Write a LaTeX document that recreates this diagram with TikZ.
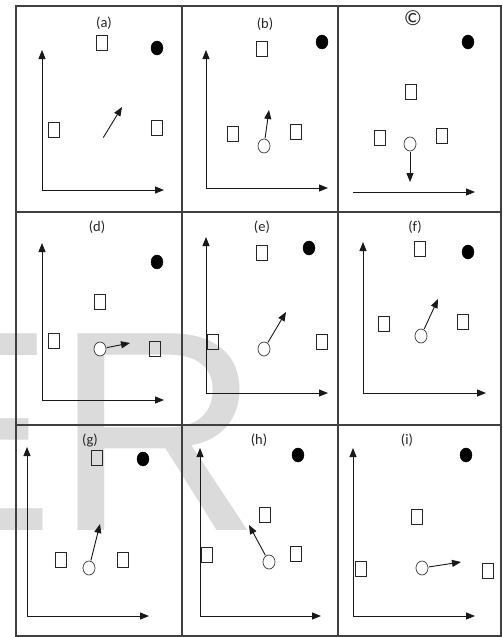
\documentclass[tikz,border=0pt]{standalone}
\usepackage{fontspec}
\setmainfont{Carlito}
\newfontfamily\wmfont{Liberation Sans}
\usetikzlibrary{arrows.meta,shapes.geometric}
\tikzset{
  frame/.style={line width=1.1pt, draw=black!75},
  sq/.style={draw=black!85, line width=0.8pt, rectangle, minimum width=11pt, minimum height=15pt, inner sep=0pt},
  dot/.style={ellipse, fill=black, draw=black, minimum width=12pt, minimum height=14pt, inner sep=0pt},
  circ/.style={ellipse, draw=black!70, line width=0.8pt, fill=white, minimum width=12pt, minimum height=14pt, inner sep=0pt},
  axes/.style={line width=0.9pt, draw=black!90, {Triangle[length=9pt,width=7pt]}-{Triangle[length=9pt,width=7pt]}},
  axis/.style={line width=0.9pt, draw=black!90, -{Triangle[length=9pt,width=7pt]}},
  mv/.style={line width=0.9pt, draw=black!90, -{Triangle[length=9pt,width=7pt]}, shorten <=0.5pt},
  lab/.style={font=\fontsize{14.5}{16}\selectfont, text=black!85, inner sep=0pt}
}
\begin{document}
\begin{tikzpicture}[x=1pt,y=-1pt]
\useasboundingbox (0,0) rectangle (503,637);
\clip (0,0) rectangle (503,637);
\fill[white] (0,0) rectangle (503,637);
% watermark
\node[anchor=base west, inner sep=0pt, text=black!14, font=\wmfont\fontsize{286}{286}\selectfont] (wm) at (-136,530) {ER};
% grid
\draw[frame] (16,6) rectangle (501,636);
\draw[frame] (182,6) -- (182,636);
\draw[frame] (338,6) -- (338,636);
\draw[frame] (16,212) -- (501,212);
\draw[frame] (16,425) -- (501,425);

% ---------- (a)
\node[lab] (la) at (104,23) {(a)};
\node[sq] (a1) at (101.5,42.5) {};
\node[dot] (ad) at (157,48) {};
\node[sq] (a2) at (54,130) {};
\node[sq] (a3) at (157,128) {};
\coordinate (ay) at (42,50); \coordinate (ao) at (42,190); \coordinate (ax) at (164,190);
\draw[axes] (ay) -- (ao) -- (ax);
\coordinate (as) at (103,138); \coordinate (at) at (122,107);
\draw[mv] (as) -- (at);

% ---------- (b)
\node[lab] (lb) at (265,24) {(b)};
\node[sq] (b1) at (262,49) {};
\node[dot] (bd) at (322,42) {};
\node[sq] (b2) at (233,134) {};
\node[sq] (b3) at (296,132) {};
\node[circ] (bc) at (264,146) {};
\coordinate (by) at (206,50); \coordinate (bo) at (206,188); \coordinate (bx) at (328,188);
\draw[axes] (by) -- (bo) -- (bx);
\coordinate (bt) at (269,110);
\draw[mv] (bc) -- (bt);

% ---------- (c)
\node[lab] (lc) at (413,18) {\scalebox{1.5}{©}};
\node[dot] (cd) at (468,42) {};
\node[sq] (c1) at (411,92) {};
\node[sq] (c2) at (380,138) {};
\node[sq] (c3) at (442,136) {};
\node[circ] (cc) at (410,144) {};
\coordinate (cs) at (353,192); \coordinate (cx) at (475,192);
\draw[axis] (cs) -- (cx);
\coordinate (ct) at (410,182);
\draw[mv] (cc) -- (ct);

% ---------- (d)
\node[lab] (ld) at (97,227) {(d)};
\node[dot] (dd) at (157,262) {};
\node[sq] (d1) at (100,302) {};
\node[sq] (d2) at (54,341) {};
\node[sq] (d3) at (155,349) {};
\node[circ] (dc) at (100,349) {};
\coordinate (dy) at (42,243); \coordinate (do) at (42,400); \coordinate (dx) at (164,400);
\draw[axes] (dy) -- (do) -- (dx);
\coordinate (dt) at (130,343);
\draw[mv] (dc) -- (dt);

% ---------- (e)
\node[lab] (le) at (262,227) {(e)};
\node[dot] (ed) at (309,248) {};
\node[sq] (e1) at (262,253) {};
\coordinate (ey) at (206,237); \coordinate (eo) at (206,393); \coordinate (ex) at (328,393);
\draw[axes] (ey) -- (eo) -- (ex);
\node[sq] (e2) at (213,342) {};
\node[sq] (e3) at (322,342) {};
\node[circ] (ec) at (264,349) {};
\coordinate (et) at (286,312);
\draw[mv] (ec) -- (et);

% ---------- (f)
\node[lab] (lf) at (415,227) {(f)};
\node[dot] (fd) at (468,252) {};
\node[sq] (f1) at (420,249) {};
\node[sq] (f2) at (384,324) {};
\node[sq] (f3) at (463,322) {};
\node[circ] (fc) at (421,336) {};
\coordinate (fy) at (363,242); \coordinate (fo) at (363,393); \coordinate (fx) at (486,393);
\draw[axes] (fy) -- (fo) -- (fx);
\coordinate (ft) at (438,299);
\draw[mv] (fc) -- (ft);

% ---------- (g)
\node[lab] (lg) at (90,440) {(g)};
\node[sq] (g1) at (97,458) {};
\node[dot] (gd) at (143,459) {};
\node[sq] (g2) at (61,560) {};
\node[sq] (g3) at (123,560) {};
\node[circ] (gc) at (89,568) {};
\coordinate (gy) at (27,447); \coordinate (go) at (27,616); \coordinate (gx) at (149,616);
\draw[axes] (gy) -- (go) -- (gx);
\coordinate (gt) at (100,524);
\draw[mv] (gc) -- (gt);

% ---------- (h)
\node[lab] (lh) at (259,440) {(h)};
\node[dot] (hd) at (298,455) {};
\node[sq] (h1) at (265,515) {};
\node[sq] (h2) at (207,555) {};
\node[sq] (h3) at (296,554) {};
\node[circ] (hc) at (269,562) {};
\coordinate (hy) at (200,448); \coordinate (ho) at (200,616); \coordinate (hx) at (321,616);
\draw[axes] (hy) -- (ho) -- (hx);
\coordinate (ht) at (249,525);
\draw[mv] (hc) -- (ht);

% ---------- (i)
\node[lab] (li) at (407,440) {(i)};
\node[dot] (id) at (466,455) {};
\node[sq] (i1) at (417,517) {};
\node[sq] (i2) at (361,569) {};
\node[sq] (i3) at (488,571) {};
\node[circ] (ic) at (422,568) {};
\coordinate (iy) at (353,448); \coordinate (io) at (353,616); \coordinate (ix) at (475,616);
\draw[axes] (iy) -- (io) -- (ix);
\coordinate (it) at (461,562);
\draw[mv] (ic) -- (it);
\end{tikzpicture}
\end{document}
